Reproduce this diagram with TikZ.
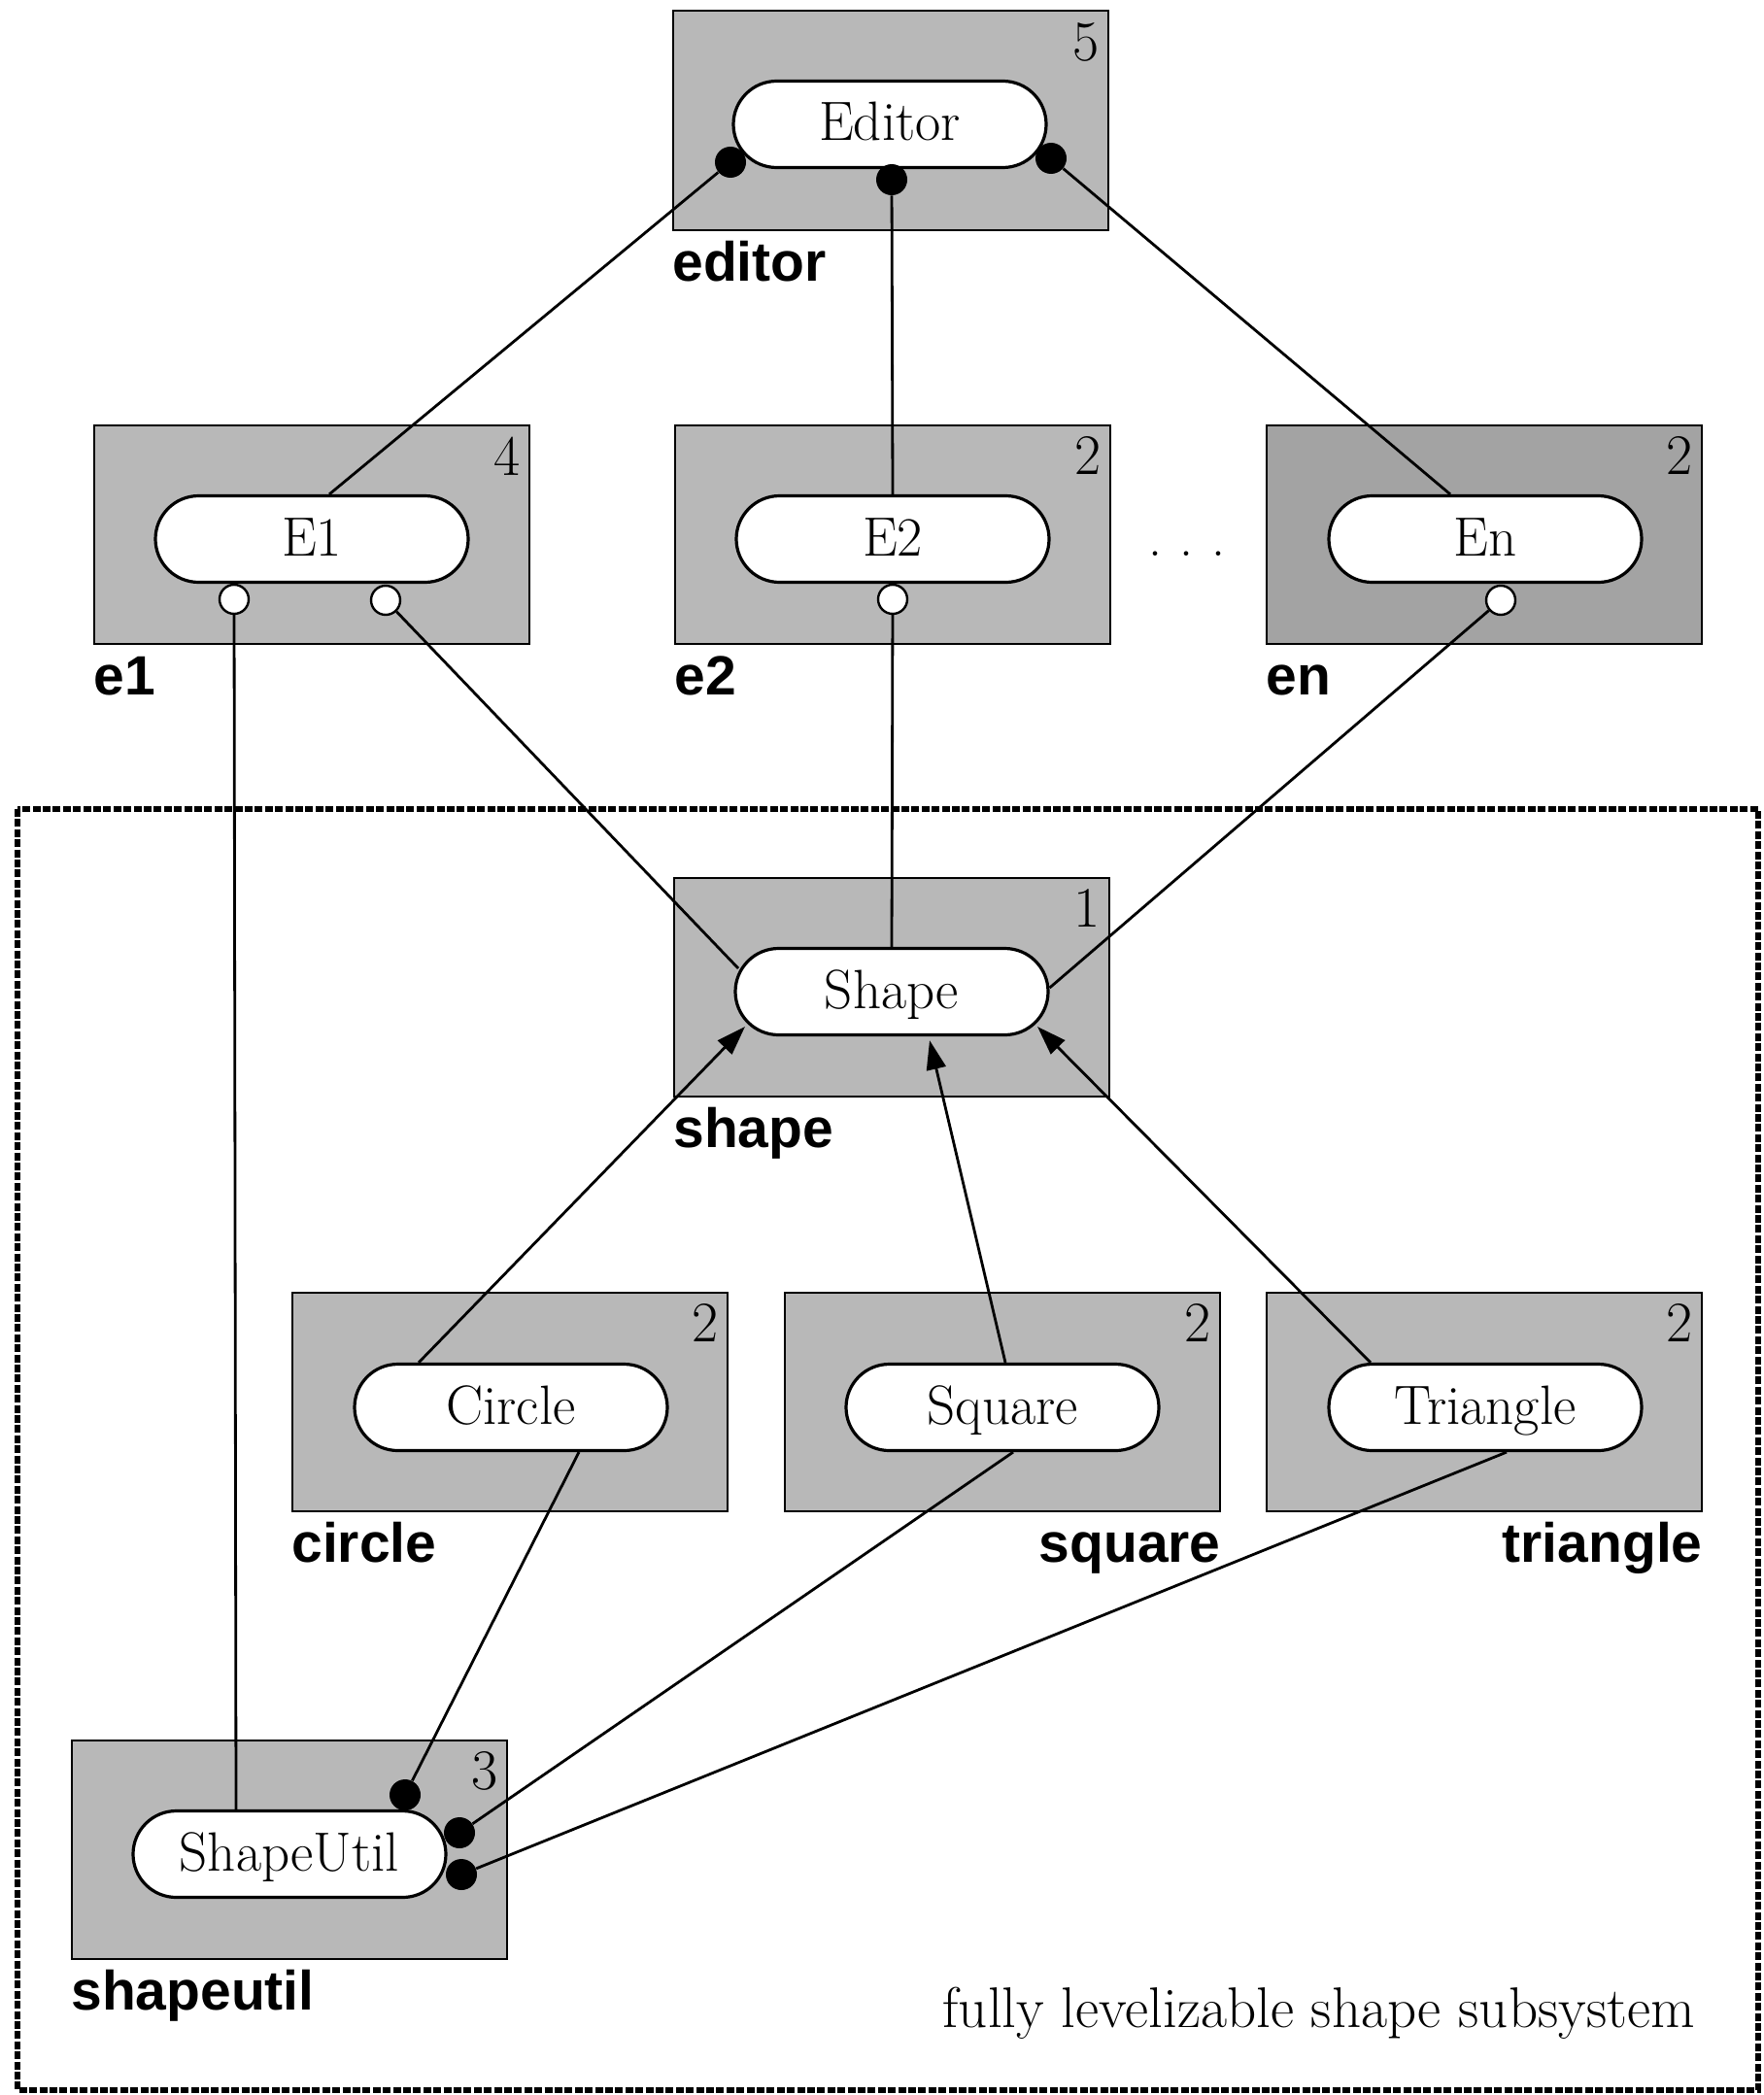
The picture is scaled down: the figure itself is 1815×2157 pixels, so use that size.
\documentclass[tikz,border=0pt]{standalone}
\usepackage{fontspec}
\newfontfamily\lblsans{Liberation Sans}
\usetikzlibrary{shapes.misc,arrows.meta,calc}
\begin{document}
\begin{tikzpicture}[x=0.5pt,y=-0.5pt,
 pkg/.style={draw=black,line width=1pt,fill=black!28,minimum width=224pt,minimum height=112.5pt,inner sep=0pt},
 pill/.style={rounded rectangle,draw=black,line width=1.6pt,fill=white,minimum width=161pt,minimum height=44.5pt,inner sep=0pt,text height=21pt,text depth=4pt,font=\fontsize{28.5}{30}\selectfont},
 lvl/.style={anchor=north east,inner sep=0pt,font=\fontsize{29.5}{30}\selectfont},
 pname/.style={inner sep=0pt,font=\lblsans\bfseries\fontsize{28.5}{30}\selectfont},
 fdot/.style={circle,fill=black,minimum size=16pt,inner sep=0pt},
 odot/.style={circle,draw=black,line width=1.2pt,fill=white,minimum size=15pt,inner sep=0pt},
 conn/.style={line width=1.4pt},
 arr/.style={line width=1.4pt,-{Triangle[length=15pt,width=10pt]}},
]
\useasboundingbox (0,0) rectangle (1815,2157);
% frame
\draw[line width=3pt,dash pattern=on 4pt off 1.2pt] (18,833) rectangle (1810,2152);
% packages
\node[pkg] (bEd) at (917,124) {};
\node[pkg] (bE1) at (321,550) {};
\node[pkg] (bE2) at (919,550) {};
\node[pkg,fill=black!36] (bEn) at (1528,550) {};
\node[pkg] (bSh) at (918,1016) {};
\node[pkg] (bCi) at (525,1443) {};
\node[pkg] (bSq) at (1032,1443) {};
\node[pkg] (bTr) at (1528,1443) {};
\node[pkg] (bSU) at (298,1904) {};
% levels
\node[lvl] (nEd) at ($(bEd.north east)+(-10,13)$) {5};
\node[lvl] (nE1) at ($(bE1.north east)+(-10,13)$) {4};
\node[lvl] (nE2) at ($(bE2.north east)+(-10,13)$) {2};
\node[lvl] (nEn) at ($(bEn.north east)+(-10,13)$) {2};
\node[lvl] (nSh) at ($(bSh.north east)+(-10,13)$) {1};
\node[lvl] (nCi) at ($(bCi.north east)+(-10,13)$) {2};
\node[lvl] (nSq) at ($(bSq.north east)+(-10,13)$) {2};
\node[lvl] (nTr) at ($(bTr.north east)+(-10,13)$) {2};
\node[lvl] (nSU) at ($(bSU.north east)+(-10,13)$) {3};
% package names
\node[pname,anchor=base west] (lEd) at ($(bEd.south west)+(0,52)$) {editor};
\node[pname,anchor=base west] (lE1) at ($(bE1.south west)+(0,52)$) {e1};
\node[pname,anchor=base west] (lE2) at ($(bE2.south west)+(0,52)$) {e2};
\node[pname,anchor=base west] (lEn) at ($(bEn.south west)+(0,52)$) {en};
\node[pname,anchor=base west] (lSh) at ($(bSh.south west)+(0,52)$) {shape};
\node[pname,anchor=base west] (lCi) at ($(bCi.south west)+(0,52)$) {circle};
\node[pname,anchor=base east] (lSq) at ($(bSq.south east)+(0,52)$) {square};
\node[pname,anchor=base east] (lTr) at ($(bTr.south east)+(0,52)$) {triangle};
\node[pname,anchor=base west] (lSU) at ($(bSU.south west)+(0,52)$) {shapeutil};
% components
\node[pill] (Ed) at (916,128) {Editor};
\node[pill] (E1) at (321,555) {E1};
\node[pill] (E2) at (919,555) {E2};
\node[pill] (En) at (1529,555) {En};
\node[pill] (Sh) at (918,1021) {Shape};
\node[pill] (Ci) at (526,1449) {Circle};
\node[pill] (Sq) at (1032,1449) {Square};
\node[pill] (Tr) at (1529,1449) {Triangle};
\node[pill] (SU) at (298,1909) {ShapeUtil};
\node[inner sep=0pt,font=\fontsize{28}{30}\selectfont,anchor=base] (dots) at (1222,572) {.\,\,.\,\,.};
\node[anchor=base east,inner sep=0pt,font=\fontsize{29.5}{30}\selectfont] (cap) at (1745,2087) {fully levelizable shape subsystem};
% dots
\node[fdot] (dEdL) at (752,167) {};
\node[fdot] (dEdM) at (918,185) {};
\node[fdot] (dEdR) at (1082,163) {};
\node[odot] (oE1a) at (241,617) {};
\node[odot] (oE1b) at (397,618) {};
\node[odot] (oE2) at (919,617) {};
\node[odot] (oEn) at (1545,618) {};
\node[fdot] (dSUa) at (417,1848) {};
\node[fdot] (dSUb) at (473,1887) {};
\node[fdot] (dSUc) at (475,1930) {};
% connectors
\draw[conn] (dEdL) -- ($(E1.north)+(18,0)$);
\draw[conn] (dEdM) -- (E2.north);
\draw[conn] (dEdR) -- ($(En.north)+(-36,0)$);
\draw[conn] (oE1a) -- ($(SU.north)+(-55,0)$);
\draw[conn] (oE1b) -- ($(Sh.center)+(-158,-24)$);
\draw[conn] (oE2) -- (Sh.north);
\draw[conn] (oEn) -- ($(Sh.east)+(0,-4)$);
\draw[arr] ($(Ci.north)+(-95,0)$) -- ($(Sh.center)+(-151,36)$);
\draw[arr] ($(Sq.north)+(3,0)$) -- ($(Sh.south)+(39,4)$);
\draw[arr] ($(Tr.north)+(-118,0)$) -- ($(Sh.center)+(150,36)$);
\draw[conn] (dSUa) -- ($(Ci.south)+(70,0)$);
\draw[conn] (dSUb) -- ($(Sq.south)+(11,0)$);
\draw[conn] (dSUc) -- ($(Tr.south)+(22,0)$);
\end{tikzpicture}
\end{document}
